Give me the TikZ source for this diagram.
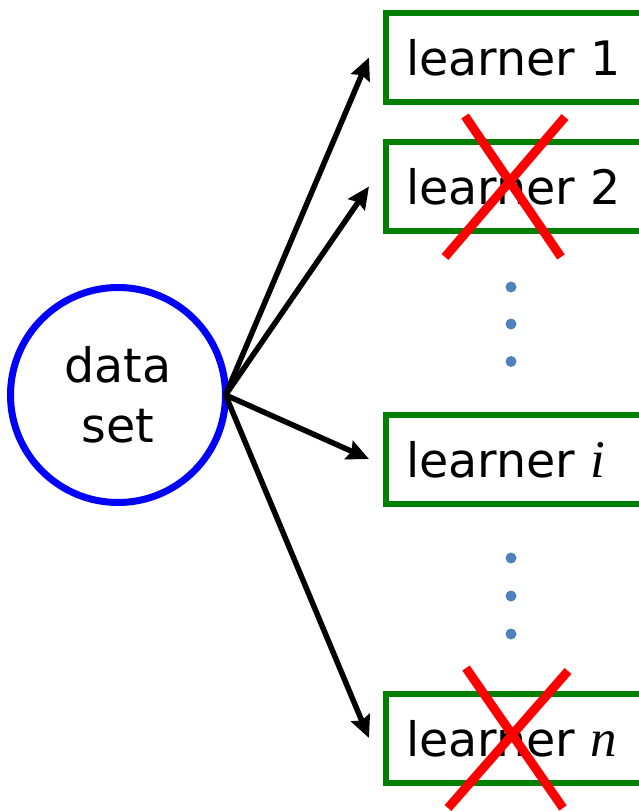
\documentclass[tikz,border=0pt]{standalone}
\usepackage{fontspec}
\setmainfont{DejaVu Sans}
\newfontfamily\varfont{Liberation Serif}
\usetikzlibrary{arrows.meta}

\definecolor{boxgreen}{RGB}{0,128,0}
\definecolor{setblue}{RGB}{0,0,255}
\definecolor{dotblue}{RGB}{79,129,189}
\definecolor{crossred}{RGB}{255,0,0}

\newcommand{\var}[1]{{\fontsize{53}{53}\selectfont\varfont\itshape #1}}

\tikzset{
  learnerbox/.style={draw=boxgreen, line width=6pt, rectangle, anchor=west,
    minimum width=300pt, minimum height=89pt, inner xsep=17pt,
    text width=260pt, align=left, text height=36pt, text depth=0pt,
    outer sep=0pt, font=\fontsize{47.5}{57}\selectfont},
  datanode/.style={draw=setblue, line width=7pt, circle, minimum size=215pt,
    inner sep=0pt, outer sep=0pt, align=center,
    font=\fontsize{47.5}{57}\selectfont},
  feed/.style={line width=5.5pt, -{Stealth[length=22pt, width=20pt, inset=3pt]}},
  strike/.style={draw=crossred, line width=9pt},
  gapdot/.style={fill=dotblue, draw=none, circle, minimum size=11pt, inner sep=0pt},
}

\begin{document}
\begin{tikzpicture}[x=1pt, y=-1pt]
  \useasboundingbox (0,0) rectangle (638,811);

  % the data set
  \node[datanode] (ds) at (118,395) {\raisebox{-3pt}{data}\\[3pt]\raisebox{-3pt}{set}};

  % the learners
  \node[learnerbox] (l1) at (386,57.5) {learner 1};
  \node[learnerbox] (l2) at (386,186.5) {learner 2};
  \node[learnerbox] (li) at (386,459) {learner \var{i}};
  \node[learnerbox] (ln) at (386,738) {learner \var{n}};

  % ellipsis dots between learners
  \node[gapdot] (d1) at (511,287) {};
  \node[gapdot] (d2) at (511,324) {};
  \node[gapdot] (d3) at (511,361.5) {};
  \node[gapdot] (d4) at (511,558) {};
  \node[gapdot] (d5) at (511,596) {};
  \node[gapdot] (d6) at (511,634) {};

  % arrow targets just left of each box
  \coordinate (t1) at ([xshift=-17pt]l1.west);
  \coordinate (t2) at ([xshift=-17pt]l2.west);
  \coordinate (ti) at ([xshift=-17pt]li.west);
  \coordinate (tn) at ([xshift=-17pt]ln.west);

  \draw[feed] (ds.east) -- (t1);
  \draw[feed] (ds.east) -- (t2);
  \draw[feed] (ds.east) -- (ti);
  \draw[feed] (ds.east) -- (tn);

  % crossed-out learners
  \coordinate (x2a) at (465,116);
  \coordinate (x2b) at (561,257);
  \coordinate (x2c) at (565,117);
  \coordinate (x2d) at (445,257);
  \draw[strike] (x2a) -- (x2b);
  \draw[strike] (x2c) -- (x2d);

  \coordinate (xna) at (466,668);
  \coordinate (xnb) at (563,808);
  \coordinate (xnc) at (568,671);
  \coordinate (xnd) at (448,808);
  \draw[strike] (xna) -- (xnb);
  \draw[strike] (xnc) -- (xnd);
\end{tikzpicture}
\end{document}
